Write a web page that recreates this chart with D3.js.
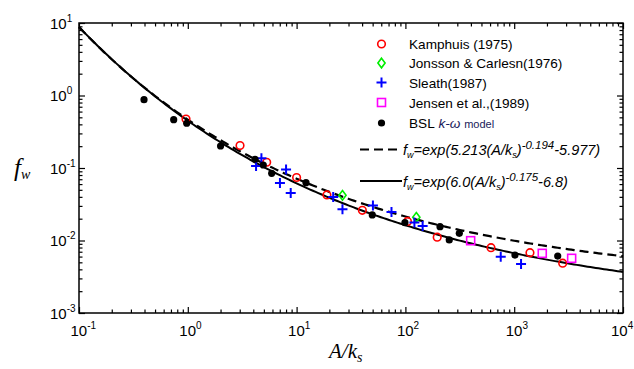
<!DOCTYPE html>
<html><head><meta charset="utf-8">
<script src="https://cdn.jsdelivr.net/npm/d3@7"></script>
<style>body{margin:0;background:#fff}svg{display:block}</style>
</head><body><svg id="c" width="634" height="369"></svg>
<script>
// ---- data ----
const kamphuisX = [0.963, 3.02, 5.31, 10.0, 19.0, 40.2, 104.5, 196, 612, 1396, 2790];
const kamphuisY = [0.474, 0.204, 0.120, 0.074, 0.0425, 0.0261, 0.0183, 0.0111, 0.00796, 0.00679, 0.00486];
const jonssonX = [26.4, 126];
const jonssonY = [0.042, 0.0209];
const sleathX = [4.24, 4.75, 8.0, 7.03, 8.83, 21.7, 26.4, 50.3, 74.5, 121, 144, 752, 1156];
const sleathY = [0.1067, 0.136, 0.0953, 0.0621, 0.0452, 0.0398, 0.027, 0.0304, 0.0247, 0.0177, 0.0158, 0.00598, 0.00474];
const jensenX = [398, 1811, 3373];
const jensenY = [0.00994, 0.00665, 0.00568];
const bslX = [0.396, 0.742, 0.977, 2.0, 4.15, 4.94, 5.9, 12.2, 49.6, 99, 208, 253, 313, 1016, 2512];
const bslY = [0.875, 0.464, 0.414, 0.201, 0.132, 0.11, 0.0845, 0.0627, 0.0225, 0.0176, 0.0155, 0.0102, 0.01257, 0.0063, 0.0061];
// model curves fw = exp(a*(A/ks)^b + c)
const dashedModel = [5.213, -0.194, -5.977];
const solidModel = [6.0, -0.175, -6.8];
const dashedLabel = ["5.213", "-0.194", "-5.977"];
const solidLabel = ["6.0", "-0.175", "-6.8"];
const xTicks = [0.1, 1, 10, 100, 1000, 10000];
const xTickExp = ["-1", "0", "1", "2", "3", "4"];
const yTicks = [0.001, 0.01, 0.1, 1, 10];
const yTickExp = ["-3", "-2", "-1", "0", "1"];
const legendNames = ["Kamphuis (1975)", "Jonsson & Carlesn(1976)", "Sleath(1987)", "Jensen et al.,(1989)", "BSL"];

// ---- layout ----
const svg = d3.select("#c");
const L = 79, R = 623, T = 23, B = 313;
const x = d3.scaleLog().domain([0.1, 10000]).range([L, R]);
const y = d3.scaleLog().domain([0.001, 10]).range([B, T]);

function minors(lo, hi) {
  const out = [];
  for (let e = Math.log10(lo); e < Math.log10(hi); e++)
    for (let k = 2; k <= 9; k++) out.push(k * Math.pow(10, e));
  return out;
}
const xMin = minors(0.1, 10000), yMin = minors(0.001, 10);

function axis(gen, scale, vals, size, tx, ty) {
  const g = svg.append("g").attr("transform", `translate(${tx},${ty})`)
    .call(gen(scale).tickValues(vals).tickSizeInner(size).tickSizeOuter(0).tickFormat(""));
  g.select(".domain").remove();
  g.selectAll("line").attr("stroke", "#000").attr("stroke-width", 1.2);
}
axis(d3.axisBottom, x, xTicks, -6, 0, B);
axis(d3.axisBottom, x, xMin, -3.5, 0, B);
axis(d3.axisTop, x, xTicks, -6, 0, T);
axis(d3.axisTop, x, xMin, -3.5, 0, T);
axis(d3.axisLeft, y, yTicks, -6, L, 0);
axis(d3.axisLeft, y, yMin, -3.5, L, 0);
axis(d3.axisRight, y, yTicks, -6, R, 0);
axis(d3.axisRight, y, yMin, -3.5, R, 0);
svg.append("rect").attr("x", L).attr("y", T).attr("width", R - L).attr("height", B - T)
  .attr("fill", "none").attr("stroke", "#000").attr("stroke-width", 1.5);

// tick labels
const tf = "Liberation Sans, Arial, sans-serif";
xTicks.forEach((v, i) => {
  const off = i === xTicks.length - 1 ? 12 : 8.5;
  const t = svg.append("text").attr("x", x(v) - off).attr("y", 336)
    .attr("font-family", tf).attr("font-size", 15).attr("fill", "#000");
  t.append("tspan").text("10");
  t.append("tspan").attr("dy", -7).attr("font-size", 10).text(xTickExp[i]);
});
yTicks.forEach((v, i) => {
  const t = svg.append("text").attr("x", 50).attr("y", y(v) + 5.5)
    .attr("font-family", tf).attr("font-size", 15).attr("fill", "#000");
  t.append("tspan").text("10");
  t.append("tspan").attr("dy", -7).attr("font-size", 10).text(yTickExp[i]);
});

// axis titles
const yl = svg.append("text").attr("x", 14).attr("y", 176)
  .attr("font-family", "Liberation Serif, Times New Roman, serif").attr("font-style", "italic").attr("font-size", 25);
yl.append("tspan").text("f");
yl.append("tspan").attr("dy", 3).attr("font-size", 14).text("w");
const xl = svg.append("text").attr("x", 329).attr("y", 358)
  .attr("font-family", "Liberation Serif, Times New Roman, serif").attr("font-style", "italic").attr("font-size", 21);
xl.append("tspan").text("A/k");
xl.append("tspan").attr("dy", 4).attr("font-size", 14).text("s");

// model curves
const xs = d3.range(0, 201).map(i => Math.pow(10, -1 + 5 * i / 200));
function modelPts(m) { return xs.map(v => [v, Math.exp(m[0] * Math.pow(v, m[1]) + m[2])]); }
const line = d3.line().x(d => x(d[0])).y(d => y(d[1]));
svg.append("path").attr("d", line(modelPts(solidModel))).attr("fill", "none")
  .attr("stroke", "#000").attr("stroke-width", 2);
svg.append("path").attr("d", line(modelPts(dashedModel))).attr("fill", "none")
  .attr("stroke", "#000").attr("stroke-width", 2.2).attr("stroke-dasharray", "9,5");

// markers
function circ(g, cx, cy) { g.append("circle").attr("cx", cx).attr("cy", cy).attr("r", 3.8).attr("fill", "none").attr("stroke", "#ff0000").attr("stroke-width", 1.6); }
function diam(g, cx, cy) { g.append("path").attr("d", `M${cx},${cy-4.8}L${cx+3.6},${cy}L${cx},${cy+4.8}L${cx-3.6},${cy}Z`).attr("fill", "none").attr("stroke", "#00ee00").attr("stroke-width", 1.6); }
function plus(g, cx, cy) { g.append("path").attr("d", `M${cx-5},${cy}H${cx+5}M${cx},${cy-5}V${cy+5}`).attr("stroke", "#0000ff").attr("stroke-width", 2); }
function sq(g, cx, cy) { g.append("rect").attr("x", cx - 4).attr("y", cy - 4).attr("width", 8).attr("height", 8).attr("fill", "none").attr("stroke", "#ff00ff").attr("stroke-width", 1.6); }
function dot(g, cx, cy) { g.append("circle").attr("cx", cx).attr("cy", cy).attr("r", 3.6).attr("fill", "#000"); }

const gm = svg.append("g");
kamphuisX.forEach((v, i) => circ(gm, x(v), y(kamphuisY[i])));
jonssonX.forEach((v, i) => diam(gm, x(v), y(jonssonY[i])));
sleathX.forEach((v, i) => plus(gm, x(v), y(sleathY[i])));
jensenX.forEach((v, i) => sq(gm, x(v), y(jensenY[i])));
bslX.forEach((v, i) => dot(gm, x(v), y(bslY[i])));

// legend
const lg = svg.append("g");
const mk = [circ, diam, plus, sq, dot];
const lx = 381.5, rows = [44, 63, 82.5, 102.5, 123];
legendNames.forEach((n, i) => {
  mk[i](lg, lx, rows[i]);
  const t = lg.append("text").attr("x", 409).attr("y", rows[i] + 5)
    .attr("font-family", tf).attr("font-size", 13.6).attr("fill", "#000").text(n);
  if (i === 4) {
    t.append("tspan").attr("font-style", "italic").attr("fill", "#1a1a5a").text(" k-ω ");
    t.append("tspan").attr("font-size", 11).attr("fill", "#1a1a5a").text(" model");
  }
});
lg.append("line").attr("x1", 360).attr("x2", 400).attr("y1", 149.5).attr("y2", 149.5)
  .attr("stroke", "#000").attr("stroke-width", 2.2).attr("stroke-dasharray", "9,5");
lg.append("line").attr("x1", 360).attr("x2", 402).attr("y1", 181).attr("y2", 181)
  .attr("stroke", "#000").attr("stroke-width", 2);
function formula(yy, lab) {
  const t = lg.append("text").attr("x", 403).attr("y", yy).attr("font-family", tf)
    .attr("font-style", "italic").attr("font-size", 14.5).attr("fill", "#000");
  t.append("tspan").text("f");
  t.append("tspan").attr("dy", 3).attr("font-size", 9).text("w");
  t.append("tspan").attr("dy", -3).text("=exp(" + lab[0] + "(A/k");
  t.append("tspan").attr("dy", 3).attr("font-size", 9).text("s");
  t.append("tspan").attr("dy", -3).text(")");
  t.append("tspan").attr("dy", -6).attr("font-size", 11.5).text(lab[1]);
  t.append("tspan").attr("dy", 6).text(lab[2] + ")");
}
formula(155, dashedLabel);
formula(187, solidLabel);
</script></body></html>
